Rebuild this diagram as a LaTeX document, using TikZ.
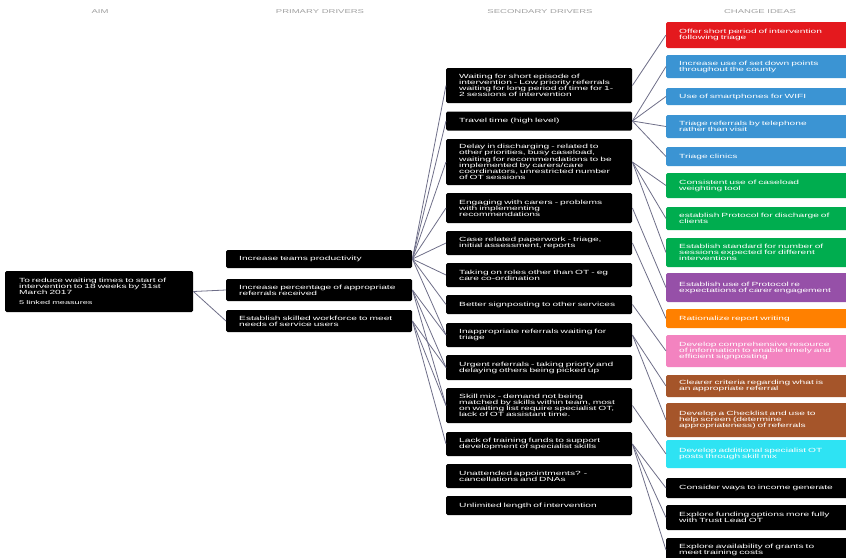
\documentclass[tikz,border=0pt]{standalone}
\usepackage{fontspec}
\setmainfont{Liberation Sans}
\newfontfamily\boxfont[FakeStretch=1.7]{Liberation Sans}
\definecolor{lnk}{HTML}{6E6E88}
\definecolor{ideared}{HTML}{E4191E}
\definecolor{ideablue}{HTML}{3B94D3}
\definecolor{ideagreen}{HTML}{00AD4F}
\definecolor{ideapurple}{HTML}{9650A8}
\definecolor{ideaorange}{HTML}{FF8000}
\definecolor{ideapink}{HTML}{F383C0}
\definecolor{ideabrown}{HTML}{A5552A}
\definecolor{ideacyan}{HTML}{2EE3F3}
\begin{document}
\begin{tikzpicture}[x=1pt, y=-1pt,
    card/.style={fill=black, rounded corners=1.5pt, anchor=west, text=white, align=left,
      inner xsep=13pt, inner ysep=0pt, font=\boxfont\fontsize{6}{6.1}\selectfont},
    drv/.style={card, text width=160pt},
    idea/.style={card, text width=160pt},
    head/.style={text=gray!75, font=\boxfont\fontsize{5.6}{7}\selectfont},
    link/.style={draw=lnk, line width=0.8pt}]
    \useasboundingbox (0,0) rectangle (846,557);
    % column headings
    \node[head] (haim) at (100,12) {AIM};
    \node[head] (hprim) at (320,12) {PRIMARY DRIVERS};
    \node[head] (hsec) at (540,12) {SECONDARY DRIVERS};
    \node[head] (hidea) at (760,12) {CHANGE IDEAS};
    % aim
    \node[card, text width=160pt, minimum height=41pt, inner xsep=14pt] (aim) at (5,291.5)
      {To reduce waiting times to start of\\ intervention to 18 weeks by 31st\\ March 2017\\[4pt] {\fontsize{5.4}{6}\selectfont 5 linked measures}};
    % primary drivers
    \node[drv, minimum height=18pt] (p1) at (226,259) {Increase teams productivity};
    \node[drv, minimum height=22pt] (p2) at (226,290) {Increase percentage of appropriate\\ referrals received};
    \node[drv, minimum height=22pt] (p3) at (226,321) {Establish skilled workforce to meet\\ needs of service users};
    % secondary drivers
    \node[drv, minimum height=35pt] (s1) at (446,85.5) {Waiting for short episode of\\ intervention - Low priority referrals\\ waiting for long period of time for 1-\\ 2 sessions of intervention};
    \node[drv, minimum height=19pt] (s2) at (446,121) {Travel time (high level)};
    \node[drv, minimum height=46pt] (s3) at (446,162) {Delay in discharging - related to\\ other priorities, busy caseload,\\ waiting for recommendations to be\\ implemented by carers/care\\ coordinators, unrestricted number\\ of OT sessions};
    \node[drv, minimum height=30pt] (s4) at (446,208) {Engaging with carers - problems\\ with implementing\\ recommendations};
    \node[drv, minimum height=24pt] (s5) at (446,243) {Case related paperwork - triage,\\ initial assessment, reports};
    \node[drv, minimum height=24pt] (s6) at (446,275) {Taking on roles other than OT - eg\\ care co-ordination};
    \node[drv, minimum height=19pt] (s7) at (446,304.5) {Better signposting to other services};
    \node[drv, minimum height=24pt] (s8) at (446,335) {Inappropriate referrals waiting for\\ triage};
    \node[drv, minimum height=25pt] (s9) at (446,367.5) {Urgent referrals - taking priorty and\\ delaying others being picked up};
    \node[drv, minimum height=35pt] (s10) at (446,405.5) {Skill mix - demand not being\\ matched by skills within team, most\\ on waiting list require specialist OT,\\ lack of OT assistant time.};
    \node[drv, minimum height=24pt] (s11) at (446,444) {Lack of training funds to support\\ development of specialist skills};
    \node[drv, minimum height=24pt] (s12) at (446,476) {Unattended appointments? -\\ cancellations and DNAs};
    \node[drv, minimum height=19pt] (s13) at (446,505.5) {Unlimited length of intervention};
    % change ideas
    \node[idea, fill=ideared, minimum height=26pt] (c1) at (666,35) {Offer short period of intervention\\ following triage};
    \node[idea, fill=ideablue, minimum height=23pt] (c2) at (666,66.5) {Increase use of set down points\\ throughout the county};
    \node[idea, fill=ideablue, minimum height=17pt] (c3) at (666,96.5) {Use of smartphones for WIFI};
    \node[idea, fill=ideablue, minimum height=23pt] (c4) at (666,126.5) {Triage referrals by telephone\\ rather than visit};
    \node[idea, fill=ideablue, minimum height=19pt] (c5) at (666,156.5) {Triage clinics};
    \node[idea, fill=ideagreen, minimum height=25pt] (c6) at (666,185.5) {Consistent use of caseload\\ weighting tool};
    \node[idea, fill=ideagreen, minimum height=23pt] (c7) at (666,218.5) {establish Protocol for discharge of\\ clients};
    \node[idea, fill=ideagreen, minimum height=29pt] (c8) at (666,252.5) {Establish standard for number of\\ sessions expected for different\\ interventions};
    \node[idea, fill=ideapurple, minimum height=29pt] (c9) at (666,287.5) {Establish use of Protocol re\\ expectations of carer engagement};
    \node[idea, fill=ideaorange, minimum height=19pt] (c10) at (666,318.5) {Rationalize report writing};
    \node[idea, fill=ideapink, minimum height=32pt] (c11) at (666,351) {Develop comprehensive resource\\ of information to enable timely and\\ efficient signposting};
    \node[idea, fill=ideabrown, minimum height=22pt] (c12) at (666,386) {Clearer criteria regarding what is\\ an appropriate referral};
    \node[idea, fill=ideabrown, minimum height=34pt] (c13) at (666,420) {Develop a Checklist and use to\\ help screen (determine\\ appropriateness) of referrals};
    \node[idea, fill=ideacyan, minimum height=28pt] (c14) at (666,454) {Develop additional specialist OT\\ posts through skill mix};
    \node[idea, minimum height=20pt] (c15) at (666,488) {Consider ways to income generate};
    \node[idea, minimum height=25pt] (c16) at (666,517.5) {Explore funding options more fully\\ with Trust Lead OT};
    \node[idea, minimum height=24pt] (c17) at (666,550) {Explore availability of grants to\\ meet training costs};
    % aim to primary
    \draw[link] (aim.east) -- (p2.west);
    \draw[link] (aim.east) -- (p3.west);
    % primary to secondary
    \draw[link] (p1.east) -- (s1.west);
    \draw[link] (p1.east) -- (s2.west);
    \draw[link] (p1.east) -- (s3.west);
    \draw[link] (p1.east) -- (s4.west);
    \draw[link] (p1.east) -- (s5.west);
    \draw[link] (p1.east) -- (s6.west);
    \draw[link] (p1.east) -- (s7.west);
    \draw[link] (p1.east) -- (s8.west);
    \draw[link] (p2.east) -- (s8.west);
    \draw[link] (p2.east) -- (s9.west);
    \draw[link] (p2.east) -- (s10.west);
    \draw[link] (p3.east) -- (s9.west);
    \draw[link] (p3.east) -- (s10.west);
    \draw[link] (p3.east) -- (s11.west);
    % secondary to change ideas
    \draw[link] (s1.east) -- (c1.west);
    \draw[link] (s2.east) -- (c2.west);
    \draw[link] (s2.east) -- (c3.west);
    \draw[link] (s2.east) -- (c4.west);
    \draw[link] (s2.east) -- (c5.west);
    \draw[link] (s3.east) -- (c6.west);
    \draw[link] (s3.east) -- (c7.west);
    \draw[link] (s3.east) -- (c8.west);
    \draw[link] (s4.east) -- (c9.west);
    \draw[link] (s5.east) -- (c10.west);
    \draw[link] (s7.east) -- (c11.west);
    \draw[link] (s8.east) -- (c12.west);
    \draw[link] (s8.east) -- (c13.west);
    \draw[link] (s10.east) -- (c14.west);
    \draw[link] (s11.east) -- (c15.west);
    \draw[link] (s11.east) -- (c16.west);
    \draw[link] (s11.east) -- (c17.west);
\end{tikzpicture}
\end{document}
